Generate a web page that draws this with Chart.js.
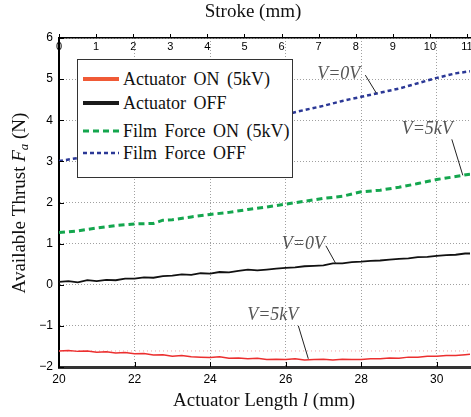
<!DOCTYPE html>
<html>
<head>
<meta charset="utf-8">
<script src="https://cdn.jsdelivr.net/npm/chart.js@4/dist/chart.umd.min.js"></script>
<style>
  html, body { margin: 0; padding: 0; background: #fff; }
  #wrap { position: relative; width: 471px; height: 417px; }
  #legend {
    position: absolute; left: 77px; top: 59px; width: 214px; height: 117px;
    border: 1.5px solid #333; background: #fff;
    font: 18px 'Liberation Serif', serif; color: #111;
  }
  .row { position: absolute; left: 0; right: 0; height: 22px; line-height: 22px; white-space: nowrap; word-spacing: 3px; }
  .row svg { position: absolute; left: 5px; top: 8px; }
  .row span { position: absolute; left: 45px; }
</style>
</head>
<body>
<div id="wrap">
  <canvas id="chart" width="471" height="417"></canvas>
  <div id="legend"></div>
</div>
<script>
// --- data ---
const seriesNames = ['Actuator  ON (5kV)', 'Actuator OFF', 'Film Force  ON (5kV)', 'Film Force  OFF'];

// actuator curves (measured, noisy)
const actuatorLength = [20.00, 20.25, 20.50, 20.75, 21.00, 21.25, 21.50, 21.75, 22.00, 22.25, 22.50, 22.75,
  23.00, 23.25, 23.50, 23.75, 24.00, 24.25, 24.50, 24.75, 25.00, 25.25, 25.50, 25.75, 26.00, 26.25,
  26.50, 26.75, 27.00, 27.25, 27.50, 27.75, 28.00, 28.25, 28.50, 28.75, 29.00, 29.25, 29.50, 29.75,
  30.00, 30.25, 30.50, 30.75, 30.88];
const actuatorOnForce = [-1.61, -1.60, -1.62, -1.61, -1.64, -1.63, -1.66, -1.65, -1.68, -1.67, -1.71, -1.70,
  -1.74, -1.72, -1.75, -1.76, -1.77, -1.75, -1.79, -1.78, -1.80, -1.79, -1.82, -1.81, -1.82, -1.80,
  -1.83, -1.82, -1.81, -1.83, -1.81, -1.82, -1.82, -1.80, -1.80, -1.78, -1.79, -1.76, -1.76, -1.74,
  -1.74, -1.72, -1.72, -1.70, -1.69];
const actuatorOffForce = [0.07, 0.09, 0.06, 0.11, 0.09, 0.12, 0.11, 0.15, 0.15, 0.18, 0.17, 0.21,
  0.22, 0.25, 0.24, 0.28, 0.27, 0.31, 0.30, 0.34, 0.37, 0.35, 0.37, 0.39, 0.41, 0.42,
  0.45, 0.46, 0.47, 0.52, 0.52, 0.55, 0.56, 0.58, 0.59, 0.61, 0.63, 0.64, 0.67, 0.68,
  0.70, 0.72, 0.73, 0.76, 0.76];

// film force curves
const filmLength = [20.0, 20.5, 21.0, 21.5, 22.0, 22.5, 22.75, 23.0, 23.5, 24.0, 24.5, 25.0, 25.5,
  26.0, 26.5, 27.0, 27.5, 28.0, 28.5, 29.0, 29.5, 30.0, 30.5, 30.88];
const filmOnForce = [1.27, 1.31, 1.38, 1.44, 1.48, 1.49, 1.57, 1.58, 1.65, 1.71, 1.76, 1.83, 1.89,
  1.96, 2.03, 2.10, 2.15, 2.26, 2.30, 2.37, 2.46, 2.56, 2.63, 2.69];
const filmOffForce = [3.01, 3.08, 3.17, 3.27, 3.37, 3.47, 3.52, 3.57, 3.67, 3.77, 3.87, 3.96, 4.05,
  4.14, 4.25, 4.35, 4.47, 4.57, 4.67, 4.77, 4.90, 5.03, 5.14, 5.19];

// faint reference level
const refLength = [20, 30.88];
const refForce = [-1.61, -1.61];

// axes
const lengthRange = [20, 30.88];
const strokeRange = [0, 11.08];
const forceRange = [-2, 6];

// callouts: text and the point on the curve they point at
const calloutText = ['V=0V', 'V=5kV', 'V=0V', 'V=5kV'];
const calloutLength = [28.4, 30.69, 27.33, 26.6];
const calloutForce = [4.66, 2.66, 0.51, -1.80];

// --- styles ---
const colors = ['#ec2f2f', '#111111', '#14a64e', '#2b3896'];
const legendColors = ['#f05a36', '#1a1a1a', '#14a64e', '#2b3896'];
const widths = [1.5, 1.8, 3, 2.5];
const dashes = [[], [], [6, 4], [4, 3]];
const calloutOffsets = [
  { lx: -11, ly: -18, tx: -5, ty: -1 },
  { lx: -11, ly: -36, tx: 1, ty: -10 },
  { lx: -10, ly: -18, tx: -1, ty: -2 },
  { lx: -10, ly: -33, tx: 0, ty: -11 }
];
const serif = '"Liberation Serif", "Times New Roman", serif';
const sans = '"Liberation Sans", Arial, sans-serif';

const toPoints = (xs, ys) => xs.map((x, i) => ({ x: x, y: ys[i] }));

// legend (html box inside the plot)
const legendEl = document.getElementById('legend');
const rowTops = [8, 32, 60, 82];
seriesNames.forEach((name, i) => {
  const dash = dashes[i].length ? `stroke-dasharray="${dashes[i].join(',')}"` : '';
  const lw = i < 2 ? 4 : widths[i];
  legendEl.insertAdjacentHTML('beforeend', `
    <div class="row" style="top:${rowTops[i]}px">
      <svg width="36" height="6"><line x1="0" y1="3" x2="36" y2="3" stroke="${legendColors[i]}" stroke-width="${lw}" ${dash}/></svg>
      <span>${name}</span>
    </div>`);
});

function drawRich(ctx, parts, cx, cy) {
  let total = 0;
  parts.forEach(p => { ctx.font = p.font; p.w = ctx.measureText(p.text).width; total += p.w; });
  let x = cx - total / 2;
  ctx.textAlign = 'left';
  ctx.textBaseline = 'middle';
  parts.forEach(p => { ctx.font = p.font; ctx.fillText(p.text, x, cy + (p.dy || 0)); x += p.w; });
}

const extras = {
  id: 'extras',
  afterDraw(chart) {
    const { ctx, chartArea: a, scales } = chart;
    const x = scales.x, y = scales.y, x2 = scales.x2;
    ctx.save();

    // inward ticks on left and bottom, outward ticks on top
    ctx.strokeStyle = '#000';
    ctx.lineWidth = 1;
    ctx.beginPath();
    y.ticks.forEach(t => {
      const py = Math.round(y.getPixelForValue(t.value)) + 0.5;
      ctx.moveTo(a.left, py); ctx.lineTo(a.left + 5, py);
    });
    x.ticks.forEach(t => {
      const px = Math.round(x.getPixelForValue(t.value)) + 0.5;
      ctx.moveTo(px, a.bottom); ctx.lineTo(px, a.bottom - 5);
    });
    x2.ticks.forEach(t => {
      const px = Math.round(x2.getPixelForValue(t.value)) + 0.5;
      ctx.moveTo(px, a.top); ctx.lineTo(px, a.top - 4);
    });
    ctx.stroke();

    // stroke labels sit just inside the top edge
    ctx.fillStyle = '#000';
    ctx.font = '11px ' + sans;
    ctx.textAlign = 'center';
    ctx.textBaseline = 'middle';
    x2.ticks.forEach(t => {
      ctx.fillText(String(t.value), x2.getPixelForValue(t.value), a.top + 9);
    });

    // callouts
    calloutText.forEach((txt, i) => {
      const o = calloutOffsets[i];
      const px = x.getPixelForValue(calloutLength[i]);
      const py = y.getPixelForValue(calloutForce[i]);
      const sx = px + o.lx, sy = py + o.ly;
      ctx.strokeStyle = '#222';
      ctx.lineWidth = 1;
      ctx.beginPath(); ctx.moveTo(sx, sy); ctx.lineTo(px, py); ctx.stroke();
      ctx.fillStyle = '#555';
      ctx.font = 'italic 18px ' + serif;
      ctx.textAlign = 'right';
      ctx.textBaseline = 'middle';
      ctx.fillText(txt, sx + o.tx, sy + o.ty);
    });

    // axis titles
    ctx.fillStyle = '#111';
    const f = '19px ' + serif, fi = 'italic 19px ' + serif;
    drawRich(ctx, [{ text: 'Stroke (mm)', font: f }], 253, 12);
    drawRich(ctx, [
      { text: 'Actuator Length ', font: f },
      { text: 'l', font: fi },
      { text: ' (mm)', font: f }
    ], 264, 401);
    ctx.translate(20, 203);
    ctx.rotate(-Math.PI / 2);
    drawRich(ctx, [
      { text: 'Available Thrust ', font: f },
      { text: 'F', font: fi },
      { text: 'a', font: 'italic 13px ' + serif, dy: 5 },
      { text: ' (N)', font: f }
    ], 0, 0);
    ctx.restore();
  }
};

const dotted = { color: '#a0a0a0', lineWidth: 1 };
const minus = v => String(v).replace('-', '\u2212');

new Chart(document.getElementById('chart'), {
  type: 'line',
  data: {
    datasets: [
      { label: seriesNames[0], data: toPoints(actuatorLength, actuatorOnForce) },
      { label: seriesNames[1], data: toPoints(actuatorLength, actuatorOffForce) },
      { label: seriesNames[2], data: toPoints(filmLength, filmOnForce) },
      { label: seriesNames[3], data: toPoints(filmLength, filmOffForce) }
    ].map((d, i) => Object.assign(d, {
      borderColor: colors[i], borderWidth: widths[i], borderDash: dashes[i],
      pointRadius: 0, tension: 0, fill: false
    })).concat([{
      label: 'ref', data: toPoints(refLength, refForce),
      borderColor: '#f3a3a3', borderWidth: 1, borderDash: [1, 3], pointRadius: 0
    }])
  },
  options: {
    responsive: false,
    animation: false,
    devicePixelRatio: 1,
    layout: { padding: { left: 0, right: 1, top: 0, bottom: 0 } },
    plugins: { legend: { display: false }, tooltip: { enabled: false } },
    scales: {
      x: {
        type: 'linear', position: 'bottom',
        min: lengthRange[0], max: lengthRange[1],
        grid: Object.assign({ drawTicks: false }, dotted),
        border: { color: '#333', width: 3, dash: [1, 2] },
        ticks: { stepSize: 2, includeBounds: false, maxRotation: 0, padding: 5, color: '#000', font: { family: sans, size: 12 } },
        afterFit: s => { s.height = 50; s.paddingLeft = 0; s.paddingRight = 0; }
      },
      x2: {
        type: 'linear', position: 'top',
        min: strokeRange[0], max: strokeRange[1],
        grid: { drawOnChartArea: false, drawTicks: false },
        border: { color: '#000', width: 1.5 },
        ticks: { stepSize: 1, includeBounds: false, autoSkip: false, maxRotation: 0, display: false },
        afterFit: s => { s.height = 38; s.paddingLeft = 0; s.paddingRight = 0; }
      },
      y: {
        type: 'linear', position: 'left',
        min: forceRange[0], max: forceRange[1],
        grid: Object.assign({ drawTicks: false }, dotted),
        border: { color: '#000', width: 2, dash: [1, 2] },
        ticks: { stepSize: 1, padding: 6, color: '#000', font: { family: sans, size: 12 }, callback: minus },
        afterFit: s => { s.width = 59; s.paddingTop = 0; s.paddingBottom = 0; }
      }
    }
  },
  plugins: [extras]
});
</script>
</body>
</html>
